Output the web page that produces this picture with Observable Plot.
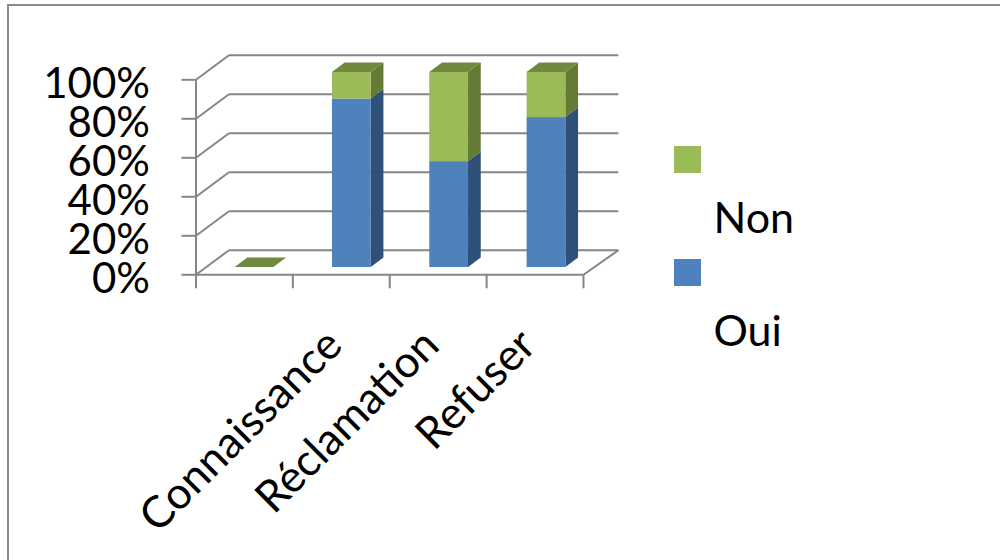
<!DOCTYPE html>
<html lang="fr">
<head>
<meta charset="utf-8">
<script src="https://cdn.jsdelivr.net/npm/d3@7"></script>
<script src="https://cdn.jsdelivr.net/npm/@observablehq/plot@0.6"></script>
<style>
  html, body { margin: 0; padding: 0; width: 1000px; height: 560px; overflow: hidden; background: #fff; }
  body { position: relative; font-family: Lato, sans-serif; color: #000; }
  #chart { position: absolute; left: 0; top: 0; }
  #chart svg { display: block; background: transparent; }
  .frame { position: absolute; left: 7px; top: 4px; width: 1100px; height: 700px; border-left: 2px solid #8a8a8a; border-top: 2px solid #8a8a8a; }
  .swatch { position: absolute; left: 674px; width: 27px; height: 27px; }
  .entry { position: absolute; left: 713.5px; font-size: 43px; line-height: 46px; }
</style>
</head>
<body>
<div class="frame"></div>
<div id="chart"></div>
<div class="swatch" style="top:146px;background:#9bbb59"></div>
<div class="entry" style="top:194px">Non</div>
<div class="swatch" style="top:259px;background:#4f81bd"></div>
<div class="entry" style="top:307px">Oui</div>
<script>
// Share of answers per topic; the first slot has no label and no answers.
const categories = ["", "Connaissance", "Réclamation", "Refuser"];
const oui = [0, 86.4, 54.3, 76.9];
const non = [0, 13.6, 45.7, 23.1];
const percentTicks = [0, 20, 40, 60, 80, 100];
const slotEdges = [0, 1, 2, 3, 4];

// Oblique projection: depth 0 is the front of the floor, depth 1 the back wall.
const depthX = 0.34;   // slots per unit of depth
const depthY = 12.6;   // percentage points per unit of depth
const px = (slot, depth) => slot + depth * depthX;
const py = (pct, depth) => pct + depth * depthY;

const wallEnd = 4.02;
const barFront = 0.297, barBack = 0.683;
const barInset = 0.303, barPitch = 1.0046, barWidth = 0.4;

// One record per stacked segment of each column.
const segments = categories.flatMap((category, i) => [
  {i, category, series: "Oui", from: 0, to: oui[i], face: "#4f81bd", side: "#2f5078"},
  {i, category, series: "Non", from: oui[i], to: oui[i] + non[i], face: "#9bbb59", side: "#647a35"}
]);
const left = s => s.i * barPitch + barInset;
const right = s => left(s) + barWidth;

// Parallelogram faces, expressed as two-point areas grouped per segment.
const sideFaces = segments.flatMap(s => [barFront, barBack].map(d => ({
  key: s.i + s.series, fill: s.side,
  x: px(right(s), d), y1: py(s.from, d), y2: py(s.to, d)
})));
const topFaces = segments.filter(s => s.series === "Non").flatMap(s => [barFront, barBack].map(d => ({
  key: s.i, fill: "#71893f",
  x1: px(left(s), d), x2: px(right(s), d), y: py(s.to, d)
})));

const gridColor = "#868686";
const gridWidth = 2;

const chart = Plot.plot({
  width: 1000,
  height: 560,
  marginLeft: 195.5,
  marginRight: 417,
  marginTop: 79.3,
  marginBottom: 285.7,
  style: {fontFamily: "Lato, sans-serif", color: "#000", background: "transparent"},
  x: {domain: [0, 4]},
  y: {domain: [0, 100]},
  marks: [
    // Back wall lines
    Plot.link(percentTicks, {
      x1: px(0, 1), x2: px(wallEnd, 1), y1: d => py(d, 1), y2: d => py(d, 1),
      stroke: gridColor, strokeWidth: gridWidth
    }),
    // Side wall lines
    Plot.link(percentTicks, {
      x1: px(0, 0), x2: px(0, 1), y1: d => py(d, 0), y2: d => py(d, 1),
      stroke: gridColor, strokeWidth: gridWidth
    }),
    // Floor: right edge, front edge and the left axis line
    Plot.link([0], {
      x1: px(4, 0), x2: px(wallEnd, 1), y1: py(0, 0), y2: py(0, 1),
      stroke: gridColor, strokeWidth: gridWidth
    }),
    Plot.ruleY([0], {stroke: gridColor, strokeWidth: gridWidth}),
    Plot.ruleX([0], {y1: 0, y2: 100, stroke: gridColor, strokeWidth: gridWidth}),
    // Column faces
    Plot.area(sideFaces, {x1: "x", x2: "x", y1: "y1", y2: "y2", z: "key", fill: "fill"}),
    Plot.area(topFaces, {x1: "x1", x2: "x2", y1: "y", y2: "y", z: "key", fill: "fill"}),
    Plot.rect(segments, {
      x1: s => px(left(s), barFront),
      x2: s => px(right(s), barFront),
      y1: s => py(s.from, barFront),
      y2: s => py(s.to, barFront),
      fill: "face"
    }),
    // Axis ticks, then the percentage labels sitting a little below them
    Plot.axisY(percentTicks, {
      label: null,
      tickSize: 14,
      text: null,
      stroke: gridColor,
      strokeWidth: gridWidth
    }),
    Plot.axisY(percentTicks, {
      label: null,
      tickSize: 0,
      tickPadding: 46,
      tickFormat: d => d + "%",
      fontSize: 42,
      dy: 4.5,
      fill: "#000"
    }),
    Plot.axisX(slotEdges, {
      label: null,
      tickSize: 14,
      text: null,
      stroke: gridColor,
      strokeWidth: gridWidth
    }),
    // Slanted category labels, anchored at the end under each slot centre
    Plot.text(categories.map((c, i) => ({c, i})), {
      x: d => d.i + 0.5,
      y: -26,
      dx: -19,
      text: "c",
      rotate: -45,
      textAnchor: "end",
      lineAnchor: "top",
      fontSize: 44,
      fill: "#000"
    })
  ]
});
document.getElementById("chart").append(chart);
</script>
</body>
</html>
